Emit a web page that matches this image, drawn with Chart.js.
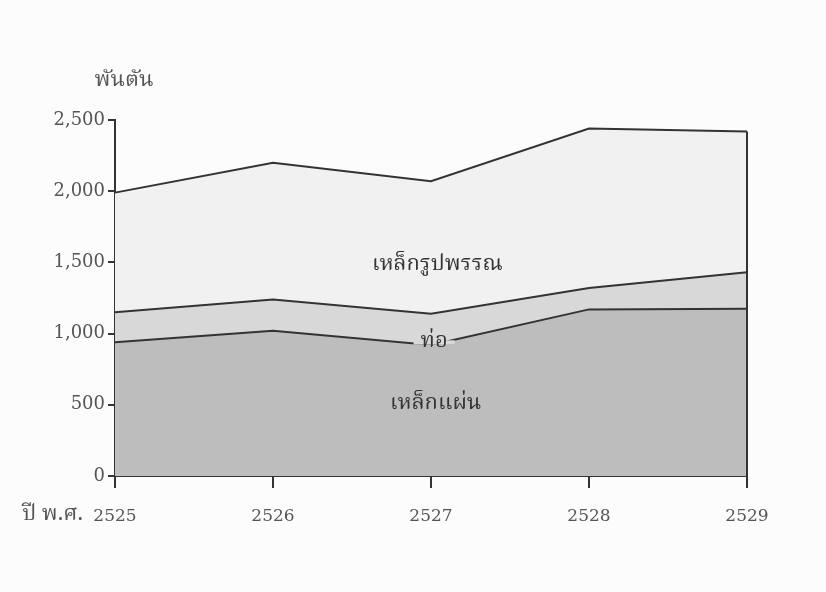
<!DOCTYPE html>
<html>
<head>
<meta charset="utf-8">
<script src="https://cdn.jsdelivr.net/npm/chart.js@4.4.1/dist/chart.umd.min.js"></script>
<style>
  html, body { margin: 0; padding: 0; background: #fcfcfc; }
  #wrap { width: 826px; height: 592px; }
</style>
</head>
<body>
<div id="wrap"><canvas id="chart" width="826" height="592"></canvas></div>
<script>
// years (Buddhist era)
const years = ["2525", "2526", "2527", "2528", "2529"];

// thousand tonnes, stacked bottom -> top
const sheetSteel = [940, 1020, 920, 1170, 1175];   // เหล็กแผ่น
const pipes = [210, 220, 220, 150, 255];           // ท่อ
const shapes = [840, 960, 930, 1120, 990];         // เหล็กรูปพรรณ

const yTicks = [0, 500, 1000, 1500, 2000, 2500];

const serif = '"DejaVu Serif", "Liberation Serif", serif';
const thai = '"Noto Serif Thai", "Noto Sans Thai", "Loma", "Garuda", "Norasi", "Tlwg Typo", serif';
const ink = '#333';
const labelGrey = '#555';

// area labels, placed in data units
const areaLabels = [
  { text: 'เหล็กรูปพรรณ', x: 2.04, y: 1475, size: 22 },
  { text: 'ท่อ', x: 2.02, y: 930, size: 22, cut: true },
  { text: 'เหล็กแผ่น', x: 2.03, y: 495, size: 22 }
];

const annotate = {
  id: 'annotate',
  afterDatasetsDraw(chart) {
    const { ctx, scales: { x, y } } = chart;
    ctx.save();

    // right edge of the stacked area
    const last = years.length - 1;
    const xr = x.getPixelForValue(last);
    const total = sheetSteel[last] + pipes[last] + shapes[last];
    ctx.strokeStyle = ink;
    ctx.lineWidth = 2;
    ctx.beginPath();
    ctx.moveTo(xr, y.getPixelForValue(total));
    ctx.lineTo(xr, y.getPixelForValue(0));
    ctx.stroke();

    areaLabels.forEach(l => {
      const px = x.getPixelForValue(0) + (x.getPixelForValue(1) - x.getPixelForValue(0)) * l.x;
      const py = y.getPixelForValue(l.y);
      ctx.font = l.size + 'px ' + thai;
      ctx.textAlign = 'center';
      ctx.textBaseline = 'middle';
      if (l.cut) {
        // break the line under the label
        const w = ctx.measureText(l.text).width + 14;
        const i = Math.floor(l.x), f = l.x - i;
        const v = sheetSteel[i] + (sheetSteel[i + 1] - sheetSteel[i]) * f;
        const ly = y.getPixelForValue(v);
        ctx.fillStyle = '#d8d8d8';
        ctx.fillRect(px - w / 2, ly - 4, w, 4);
        ctx.fillStyle = '#bdbdbd';
        ctx.fillRect(px - w / 2, ly, w, 4);
      }
      ctx.fillStyle = '#333';
      ctx.fillText(l.text, px, py);
    });

    // unit title above the y axis
    ctx.font = '22px ' + thai;
    ctx.fillStyle = labelGrey;
    ctx.textAlign = 'center';
    ctx.textBaseline = 'middle';
    ctx.fillText('พันตัน', x.left + 9, 82);

    // era label before the first year
    ctx.font = '22px ' + thai;
    ctx.textAlign = 'right';
    ctx.fillText('ปี พ.ศ.', x.getPixelForValue(0) - 32, 516);
    ctx.restore();
  }
};

const data = {
  labels: years,
  datasets: [
    { label: 'เหล็กแผ่น', data: sheetSteel, fill: 'origin', backgroundColor: '#bdbdbd' },
    { label: 'ท่อ', data: pipes, fill: '-1', backgroundColor: '#d8d8d8' },
    { label: 'เหล็กรูปพรรณ', data: shapes, fill: '-1', backgroundColor: '#f1f1f1' }
  ].map(d => Object.assign(d, {
    borderColor: ink, borderWidth: 2, pointRadius: 0, tension: 0
  }))
};

new Chart(document.getElementById('chart'), {
  type: 'line',
  data: data,
  plugins: [annotate],
  options: {
    responsive: false,
    animation: false,
    layout: { padding: { left: 0, top: 120, right: 79, bottom: 0 } },
    plugins: { legend: { display: false }, tooltip: { enabled: false } },
    scales: {
      x: {
        offset: false,
        grid: { display: true, drawOnChartArea: false, drawTicks: true, tickLength: 12, tickColor: ink, lineWidth: 2 },
        border: { display: true, color: ink, width: 2 },
        ticks: { color: labelGrey, font: { family: serif, size: 17 }, padding: 18, maxRotation: 0 },
        afterFit(s) { s.height = 592 - 476; }
      },
      y: {
        stacked: true,
        min: 0,
        max: 2500,
        afterBuildTicks(s) { s.ticks = yTicks.map(v => ({ value: v })); },
        grid: { display: true, drawOnChartArea: false, drawTicks: true, tickLength: 7, tickColor: ink, lineWidth: 2 },
        border: { display: true, color: ink, width: 2 },
        ticks: {
          color: labelGrey, font: { family: serif, size: 18 }, padding: 3,
          callback: v => v.toLocaleString('en-US')
        },
        afterFit(s) { s.width = 115; }
      }
    }
  }
});
</script>
</body>
</html>
